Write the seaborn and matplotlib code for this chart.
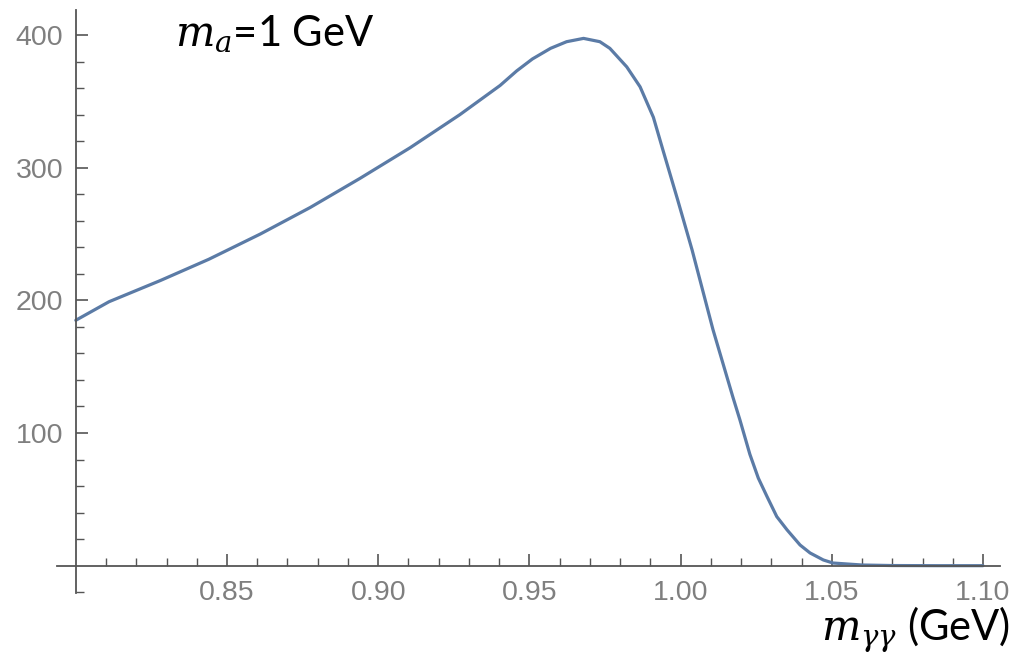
import matplotlib
matplotlib.use("Agg")
import matplotlib.pyplot as plt
from matplotlib.ticker import FixedLocator
import seaborn as sns
import pandas as pd

# ---- data ----
m_gg = [0.800, 0.811, 0.828, 0.844, 0.861, 0.8775, 0.894, 0.9105, 0.927, 0.9403,
        0.9458, 0.951, 0.957, 0.9623, 0.9679, 0.9733, 0.9766, 0.9822, 0.9866, 0.991,
        0.9942, 0.999, 1.0038, 1.0107, 1.0173, 1.0196, 1.0229, 1.0257, 1.0286, 1.0318,
        1.0352, 1.0395, 1.0428, 1.0472, 1.0504, 1.060, 1.070, 1.085, 1.100]
rate = [185, 199, 215, 231, 250, 270, 292, 315, 340, 362,
        373, 382, 390, 395, 397.5, 395, 390, 376, 361, 338,
        313, 276, 238, 178, 127, 110, 84, 66, 52, 37,
        27, 15.6, 9.6, 4.3, 2, 0.5, 0.1, 0, 0]
x_ticks = [0.85, 0.90, 0.95, 1.00, 1.05, 1.10]
x_tick_labels = ["0.85", "0.90", "0.95", "1.00", "1.05", "1.10"]
y_ticks = [100, 200, 300, 400]
y_tick_labels = ["100", "200", "300", "400"]
annotation = "$m_a$=1 GeV"
x_label = r"$m_{\gamma\gamma}$ (GeV)"

df = pd.DataFrame({"m": m_gg, "rate": rate})

sns.set_style("white")
plt.rcParams["font.family"] = ["Liberation Sans", "DejaVu Sans"]
plt.rcParams["mathtext.fontset"] = "dejavuserif"

fig = plt.figure(figsize=(10.17, 6.68), dpi=100)
W, H = 1017, 668
ax = fig.add_axes([57 / W, (H - 593) / H, 943 / W, 583 / H])

sns.lineplot(data=df, x="m", y="rate", ax=ax, color="#5b7ba6", linewidth=2.3)

ax.set_xlim(0.79378, 1.10562)
ax.set_ylim(-20.6, 418.9)

axis_col = "#555555"
for s in ["top", "right"]:
    ax.spines[s].set_visible(False)
ax.spines["left"].set_position(("data", 0.80))
ax.spines["bottom"].set_position(("data", 0))
for s in ["left", "bottom"]:
    ax.spines[s].set_color(axis_col)
    ax.spines[s].set_linewidth(1.3)

ax.xaxis.set_major_locator(FixedLocator(x_ticks))
ax.set_xticklabels(x_tick_labels)
ax.xaxis.set_minor_locator(FixedLocator([round(0.81 + 0.01 * i, 2) for i in range(30)]))
ax.yaxis.set_major_locator(FixedLocator(y_ticks))
ax.set_yticklabels(y_tick_labels)
ax.yaxis.set_minor_locator(FixedLocator([v for v in range(-20, 401, 20) if v % 100 != 0]))

ax.tick_params(axis="both", which="both", bottom=True, left=True, top=False, right=False)
ax.tick_params(axis="both", which="major", direction="in", length=8.5, width=1.2,
               color=axis_col, labelcolor="#7f7f7f", labelsize=20.5)
ax.tick_params(axis="both", which="minor", direction="in", length=5.5, width=1.0,
               color=axis_col)
ax.tick_params(axis="x", which="major", pad=10)
ax.tick_params(axis="y", which="major", pad=9)

ax.set_xlabel("")
ax.set_ylabel("")

fig.text(175 / W, 1 - 45 / H, annotation, fontsize=30, family=["Lato", "DejaVu Sans"],
         color="black", ha="left", va="baseline")
fig.text(1010 / W, 1 - 640 / H, x_label, fontsize=30, family=["Lato", "DejaVu Sans"],
         color="black", ha="right", va="baseline")

fig.savefig("out.png", dpi=100, facecolor="white")
